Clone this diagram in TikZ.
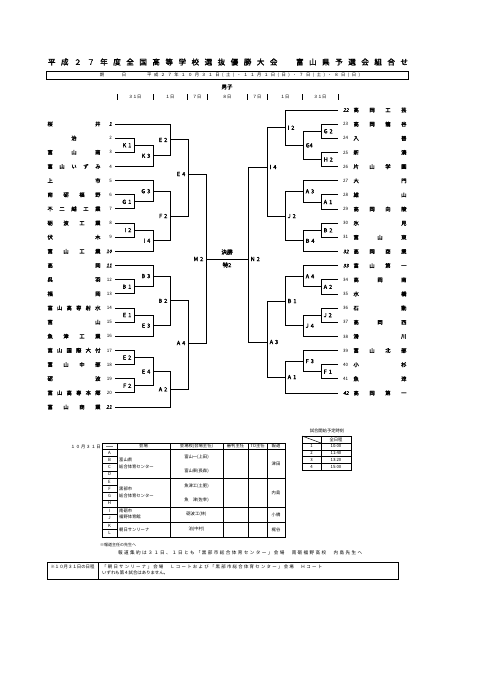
\documentclass[tikz,border=0pt]{standalone}
\usepackage{fontspec}
\setmainfont{Noto Sans CJK JP}[AutoFakeBold=2,AutoFakeSlant=0.2]
\usetikzlibrary{calc}
\newcommand\spreadit[2]{\makebox[#1][s]{\spreadloop#2\relax\unskip}}
\def\spreadloop#1{\ifx#1\relax\else#1\hskip 0pt plus 1fil\relax\expandafter\spreadloop\fi}
\newcommand\nmfont{\fontsize{5.3}{6}\selectfont\bfseries}
\newcommand\lbfont{\fontsize{5.6}{6}\selectfont\bfseries\spaceskip=2pt\relax}
\newcommand\numfont{\fontsize{4.5}{5}\selectfont}
\newcommand\numifont{\fontsize{5}{5}\selectfont\bfseries\itshape}
\newcommand\ttfont{\fontsize{4.3}{5}\selectfont}
% bracket match: [out y] {out} {in1} {in2} {vertical x} {label} {label style}
\newcommand\mt[7][]{%
  \draw[br] let \p1=(#3), \p2=(#4) in (#3) -- (#5pt,\y1) -- (#5pt,\y2) -- (#4);
  \if\relax\detokenize{#1}\relax
    \path let \p1=(#3), \p2=(#4) in coordinate (#2) at (#5pt,{(\y1+\y2)/2});
  \else
    \coordinate (#2) at (#5,#1);
  \fi
  \node[#7] (t#2) at (#2) {#6};
}
\begin{document}
\begin{tikzpicture}[x=1pt,y=-1pt,
  br/.style={line width=0.85pt},
  labL/.style={anchor=east,inner sep=0pt,xshift=-2.5pt,font=\lbfont},
  labR/.style={anchor=west,inner sep=0pt,xshift=2.5pt,font=\lbfont},
  nm/.style={inner sep=0pt,font=\nmfont},
  num/.style={inner sep=0pt,font=\numfont},
  numi/.style={inner sep=0pt,font=\numifont},
  tt/.style={inner sep=0pt,font=\ttfont},
  tb/.style={line width=0.5pt},
  tbo/.style={line width=1pt}]
\useasboundingbox (0,0) rectangle (481,680);
\fill[white] (0,0) rectangle (481,680);

% ---------- title ----------
\node[inner sep=0pt,font=\fontsize{7.5}{8}\selectfont\bfseries] (title) at (228,62)
  {\spreadit{360pt}{平成２７年度全国高等学校選抜優勝大会　富山県予選会組合せ}};
\draw[line width=1pt] (46,71) rectangle (408,79);
\node[tt] (ki) at (102,75) {期};
\node[tt] (bi) at (124,75) {日};
\node[tt,anchor=west] (date) at (147,75)
  {\spreadit{213pt}{平成２７年１０月３１日(土)・１１月１日(日)・７日(土)・８日(日)}};
\node[inner sep=0pt,font=\fontsize{5.5}{6}\selectfont\bfseries] (boys) at (227,87) {男子};
\foreach \x in {117,153,187,207,247,267,302,338}{\draw[line width=0.5pt] (\x,94) -- (\x,100);}
\foreach \x/\d [count=\i] in {135/３１日,170/１日,197/７日,227/８日,257/７日,285/１日,320/３１日}{
  \node[tt] (day\i) at (\x,97) {\d};}

% ---------- left side teams ----------
\foreach \n/\nm/\st in {1/{桜 井}/numi, 2/{\hfill 治\hfill}/num, 3/{富 山 南}/num,
  4/{富 山 い ず み}/num, 5/{上 市}/num, 6/{南 砺 福 野}/num, 7/{不 二 越 工 業}/num,
  8/{砺 波 工 業}/num, 9/{伏 木}/num, 10/{富 山 工 業}/numi, 11/{高 岡}/numi,
  12/{呉 羽}/num, 13/{福 岡}/num, 14/{富 山 高 専 射 水}/num, 15/{富 山}/num,
  16/{魚 津 工 業}/num, 17/{富 山 国 際 大 付}/num, 18/{富 山 中 部}/num,
  19/{砺 波}/num, 20/{富 山 高 専 本 郷}/num, 21/{富 山 商 業}/numi}{
  \pgfmathsetmacro\yy{124+(\n-1)*14.15}
  \node[nm] (nL\n) at (74,\yy) {\makebox[53pt][s]{\nm}};
  \node[\st,anchor=east] (kL\n) at (112,\yy) {\n};
  \coordinate (L\n) at (115,\yy);
}
% ---------- right side teams ----------
\foreach \n/\nm/\st in {22/{高 岡 工 芸}/numi, 23/{高 岡 龍 谷}/num, 24/{入 善}/num,
  25/{新 湊}/num, 26/{片 山 学 園}/num, 27/{大 門}/num, 28/{雄 山}/num,
  29/{高 岡 向 陵}/num, 30/{氷 見}/num, 31/{富 山 東}/num, 32/{高 岡 商 業}/numi,
  33/{富 山 第 一}/numi, 34/{高 岡 南}/num, 35/{水 橋}/num, 36/{石 動}/num,
  37/{高 岡 西}/num, 38/{滑 川}/num, 39/{富 山 北 部}/num, 40/{小 杉}/num,
  41/{魚 津}/num, 42/{高 岡 第 一}/numi}{
  \pgfmathsetmacro\yy{110+(\n-22)*14.15}
  \node[nm] (nR\n) at (380,\yy) {\makebox[53pt][s]{\nm}};
  \node[\st,anchor=west] (kR\n) at (343,\yy) {\n};
  \coordinate (R\n) at (338,\yy);
}

% ---------- left bracket ----------
\mt{K1}{L2}{L3}{134}{K 1}{labL}
\mt{K3}{K1}{L4}{153}{K 3}{labL}
\mt{E2a}{L1}{K3}{170}{E 2}{labL}
\mt{G1}{L6}{L7}{134}{G 1}{labL}
\mt{G3}{L5}{G1}{153}{G 3}{labL}
\mt{I2}{L8}{L9}{134}{I 2}{labL}
\mt{I4}{I2}{L10}{153}{I 4}{labL}
\mt{F2a}{G3}{I4}{170}{F 2}{labL}
\mt[174]{E4a}{E2a}{F2a}{188}{E 4}{labL}
\mt{B1}{L12}{L13}{134}{B 1}{labL}
\mt{B3}{L11}{B1}{153}{B 3}{labL}
\mt{E1}{L14}{L15}{134}{E 1}{labL}
\mt{E3}{E1}{L16}{153}{E 3}{labL}
\mt{B2}{B3}{E3}{170}{B 2}{labL}
\mt{E2b}{L17}{L18}{134}{E 2}{labL}
\mt{F2b}{L19}{L20}{134}{F 2}{labL}
\mt{E4b}{E2b}{F2b}{153}{E 4}{labL}
\mt{A2}{E4b}{L21}{170}{A 2}{labL}
\mt[343]{A4}{B2}{A2}{188}{A 4}{labL}
\mt[259]{M2}{E4a}{A4}{206}{M 2}{labL}

% ---------- right bracket ----------
\mt{rG2}{R23}{R24}{321}{G 2}{labR}
\mt{rH2}{R25}{R26}{321}{H 2}{labR}
\mt{rG4}{rG2}{rH2}{303}{G4}{labR}
\mt{rI2}{R22}{rG4}{285}{I 2}{labR}
\mt{rA1}{R28}{R29}{321}{A 1}{labR}
\mt{rA3}{R27}{rA1}{303}{A 3}{labR}
\mt{rB2}{R30}{R31}{321}{B 2}{labR}
\mt{rB4}{rB2}{R32}{303}{B 4}{labR}
\mt{rJ2}{rA3}{rB4}{285}{J 2}{labR}
\mt[167]{rI4}{rI2}{rJ2}{267}{I 4}{labR}
\mt{rA2}{R34}{R35}{321}{A 2}{labR}
\mt{rA4}{R33}{rA2}{303}{A 4}{labR}
\mt{rJ2b}{R36}{R37}{321}{J 2}{labR}
\mt{rJ4}{rJ2b}{R38}{303}{J 4}{labR}
\mt{rB1}{rA4}{rJ4}{285}{B 1}{labR}
\mt{rF1}{R40}{R41}{321}{F 1}{labR}
\mt{rF3}{R39}{rF1}{303}{F 3}{labR}
\mt{rA1b}{rF3}{R42}{285}{A 1}{labR}
\mt[342]{rA3b}{rB1}{rA1b}{267}{A 3}{labR}
\mt[259]{N2}{rI4}{rA3b}{248}{N 2}{labR}

% final
\draw[br] (M2) -- (N2);
\node[inner sep=0pt,font=\lbfont] (fin) at (227,252) {決勝};
\node[inner sep=0pt,font=\lbfont] (toku) at (227,265) {特2};

% ---------- venue table ----------
\node[tt,anchor=east] (date31) at (101,447) {\spreadit{30pt}{１０月３１日}};
\draw[tbo] (102,443) rectangle (285,537);
\draw[tbo] (102,449) -- (285,449);
\foreach \x in {117,170,223,248,267}{\draw[tb] (\x,443) -- (\x,537);}
\foreach \y in {478,507,522}{\draw[tb] (102,\y) -- (285,\y);}
\foreach \y in {456.25,463.5,470.75,485.25,492.5,499.75,514.5,529.5}{\draw[tb] (102,\y) -- (117,\y);}
\draw[gray,line width=0.4pt] (106,446) -- (113,446);
\node[tt] (h1) at (143.5,446) {会場};
\node[tt] (h2) at (196.5,446) {会場校(会場主任)};
\node[tt] (h3) at (235.5,446) {審判主任};
\node[tt] (h4) at (257.5,446) {TO主任};
\node[tt] (h5) at (276,446) {報道};
\foreach \l/\y in {A/452.6,B/459.9,C/467.1,D/474.4,E/481.6,F/488.9,G/496.1,H/503.4,I/510.8,J/518.2,K/525.8,L/533.2}{
  \node[tt] (let\l) at (109.5,\y) {\l};}
\node[tt,anchor=west] (v1a) at (119,460) {富山県};
\node[tt,anchor=west] (v1b) at (119,467) {総合体育センター};
\node[tt,anchor=west] (v2a) at (119,489) {黒部市};
\node[tt,anchor=west] (v2b) at (119,496) {総合体育センター};
\node[tt,anchor=west] (v3a) at (119,510.5) {南砺市};
\node[tt,anchor=west] (v3b) at (119,517) {福野体育館};
\node[tt,anchor=west] (v4) at (119,529.5) {朝日サンリーナ};
\node[tt] (s1) at (196.5,457) {富山一(上田)};
\node[tt] (s2) at (196.5,471) {富山東(長森)};
\node[tt] (s3) at (196.5,486) {魚津工(土肥)};
\node[tt] (s4) at (196.5,500) {魚　津(佐幸)};
\node[tt] (s5) at (196.5,514.5) {砺波工(林)};
\node[tt] (s6) at (196.5,529.5) {泊(中村)};
\node[tt] (p1) at (276,463.5) {津田};
\node[tt] (p2) at (276,492.5) {内島};
\node[tt] (p3) at (276,514.5) {小橋};
\node[tt] (p4) at (276,529.5) {梶谷};

% ---------- time table ----------
\node[tt] (tttl) at (327,431) {試合開始予定時刻};
\draw[tbo] (302,436) rectangle (351,470);
\draw[tb] (321,436) -- (321,470);
\foreach \y in {443,449.75,456.5,463.25}{\draw[tb] (302,\y) -- (351,\y);}
\draw[tb] (302,436) -- (321,443);
\node[tt] (allday) at (336,439.5) {全日程};
\foreach \i/\t in {1/10:00,2/11:40,3/13:20,4/15:00}{
  \pgfmathsetmacro\yy{443+(\i-0.5)*6.75}
  \node[tt] (tn\i) at (311.5,\yy) {\i};
  \node[tt] (tt\i) at (336,\yy) {\t};}

% ---------- notes ----------
\node[inner sep=0pt,font=\fontsize{4}{5}\selectfont,anchor=west] (note1) at (100,545) {※報道主任の先生へ};
\node[inner sep=0pt,font=\fontsize{4.6}{5}\selectfont,anchor=west] (note2) at (118,553)
  {\spreadit{244pt}{報道集約は３１日、１日とも「黒部市総合体育センター」会場　南砺福野高校　内島先生へ}};
\draw[line width=0.8pt] (47,562) rectangle (398,579);
\draw[tb] (98,562) -- (98,579);
\node[inner sep=0pt,font=\fontsize{4.4}{5}\selectfont] (note3) at (72.5,567) {※１０月３１日の日程};
\node[inner sep=0pt,font=\fontsize{4.4}{5}\selectfont,anchor=west] (note4) at (102,567)
  {\spreadit{220pt}{「朝日サンリーナ」会場　Ｌコートおよび「黒部市総合体育センター」会場　Ｈコート}};
\node[inner sep=0pt,font=\fontsize{4.4}{5}\selectfont,anchor=west] (note5) at (102,573) {いずれも第４試合はありません。};
\end{tikzpicture}
\end{document}
